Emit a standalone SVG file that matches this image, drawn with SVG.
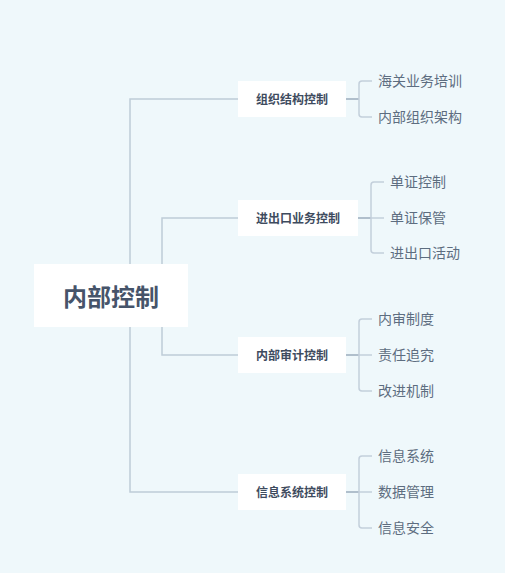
<svg xmlns="http://www.w3.org/2000/svg" width="505" height="573" viewBox="0 0 505 573">
<style>
.bg{fill:#eff8fb}
.box{fill:#ffffff}
.root{font-family:"Noto Sans CJK SC","Noto Sans",sans-serif;font-size:24px;font-weight:bold;fill:#46546a}
.br{font-family:"Noto Sans CJK SC","Noto Sans",sans-serif;font-size:12px;font-weight:bold;fill:#3e4b5e}
.leaf{font-family:"Noto Sans CJK SC","Noto Sans",sans-serif;font-size:14px;fill:#5d6d80}
.c1{fill:none;stroke:#bfccd8;stroke-width:1.5}
.c2{fill:none;stroke:#a9b8c7;stroke-width:1.8}
.c3{fill:none;stroke:#c3cfdb;stroke-width:1.5}
</style>
<rect class="bg" x="0" y="0" width="505" height="573"/>
<g id="connectors">
<path class="c1" d="M238 99 H130 V492 H238"/>
<path class="c1" d="M238 218 H162 V355 H238"/>
<path class="c2" d="M346 99 H359"/>
<path class="c3" d="M372 81 H362 Q359 81 359 84 V114 Q359 117 362 117 H372"/>
<path class="c2" d="M358 218 H371"/>
<path class="c3" d="M384 182 H374 Q371 182 371 185 V250 Q371 253 374 253 H384 M371 218 H384"/>
<path class="c2" d="M346 355 H359"/>
<path class="c3" d="M372 319 H362 Q359 319 359 322 V388 Q359 391 362 391 H372 M359 355 H372"/>
<path class="c2" d="M346 492 H359"/>
<path class="c3" d="M372 456 H362 Q359 456 359 459 V525 Q359 528 362 528 H372 M359 492 H372"/>
</g>
<g id="root">
<rect class="box" x="34" y="264" width="154" height="63"/>
<text class="root" x="111" y="295" text-anchor="middle" dominant-baseline="central">内部控制</text>
</g>
<g id="b1">
<rect class="box" x="238" y="81" width="108" height="36"/>
<text class="br" x="292" y="98.5" text-anchor="middle" dominant-baseline="central">组织结构控制</text>
</g>
<g id="b2">
<rect class="box" x="238" y="200" width="120" height="36"/>
<text class="br" x="298" y="217.5" text-anchor="middle" dominant-baseline="central">进出口业务控制</text>
</g>
<g id="b3">
<rect class="box" x="238" y="337" width="108" height="36"/>
<text class="br" x="292" y="354.5" text-anchor="middle" dominant-baseline="central">内部审计控制</text>
</g>
<g id="b4">
<rect class="box" x="238" y="474" width="108" height="36"/>
<text class="br" x="292" y="491.5" text-anchor="middle" dominant-baseline="central">信息系统控制</text>
</g>
<g id="l1"><text class="leaf" x="378" y="80" dominant-baseline="central">海关业务培训</text></g>
<g id="l2"><text class="leaf" x="378" y="116" dominant-baseline="central">内部组织架构</text></g>
<g id="l3"><text class="leaf" x="390" y="181" dominant-baseline="central">单证控制</text></g>
<g id="l4"><text class="leaf" x="390" y="217" dominant-baseline="central">单证保管</text></g>
<g id="l5"><text class="leaf" x="390" y="252" dominant-baseline="central">进出口活动</text></g>
<g id="l6"><text class="leaf" x="378" y="318" dominant-baseline="central">内审制度</text></g>
<g id="l7"><text class="leaf" x="378" y="354" dominant-baseline="central">责任追究</text></g>
<g id="l8"><text class="leaf" x="378" y="390" dominant-baseline="central">改进机制</text></g>
<g id="l9"><text class="leaf" x="378" y="455" dominant-baseline="central">信息系统</text></g>
<g id="l10"><text class="leaf" x="378" y="491" dominant-baseline="central">数据管理</text></g>
<g id="l11"><text class="leaf" x="378" y="527" dominant-baseline="central">信息安全</text></g>
</svg>
